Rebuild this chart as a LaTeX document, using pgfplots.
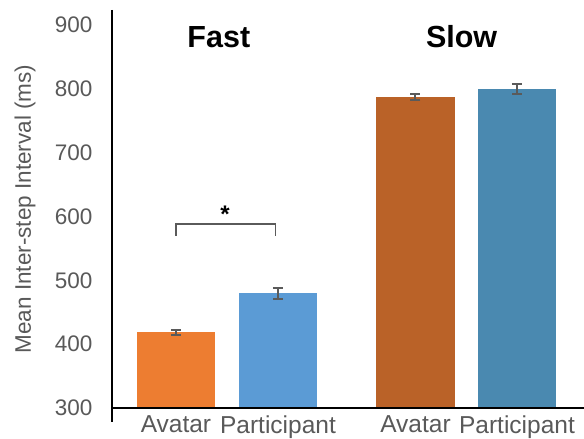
\documentclass[border=0pt]{standalone}
\usepackage{pgfplots}
\pgfplotsset{compat=1.18}
\usepackage{fontspec}
\setmainfont{Liberation Sans}
\definecolor{tickgray}{HTML}{595959}
\definecolor{errgray}{HTML}{5A5A5A}
\definecolor{fastA}{HTML}{ED7D31}
\definecolor{fastP}{HTML}{5B9BD5}
\definecolor{slowA}{HTML}{BA6228}
\definecolor{slowP}{HTML}{4A89B0}
\begin{document}
\begin{tikzpicture}
\path[use as bounding box] (-112pt,-31pt) rectangle (472pt,408pt);
\begin{axis}[
  at={(0,0)}, anchor=south west,
  scale only axis, width=472pt, height=398pt,
  xmin=-0.627, xmax=4.0, ymin=300, ymax=923.5,
  axis lines=none,
  hide x axis=false, hide y axis=false,
  clip=false,
  ytick={300,400,500,600,700,800,900},
  xtick={0,1,2.348,3.343},
  xticklabels={Avatar,Participant,Avatar,Participant},
  major tick length=0pt,
  tick label style={text=tickgray},
  yticklabel style={xshift=-16pt, font=\fontsize{22.5}{26}\selectfont},
  xticklabel style={yshift=-4pt, font=\fontsize{24.5}{28}\selectfont},
  ylabel={Mean Inter-step Interval (ms)},
  every axis y label/.style={at={(axis description cs:-0.184,0.5)}, rotate=90, anchor=center, font=\fontsize{22.5}{26}\selectfont, text=tickgray},
  /pgf/number format/assume math mode=true,
]
\addplot[ybar, bar shift=0pt, bar width=0.765, fill=fastA, draw=none,
  error bars/.cd, y dir=both, y explicit,
  error bar style={line width=2pt, errgray},
  error mark options={rotate=90, mark size=5pt, line width=2pt, errgray}]
  coordinates {(0,418.7) +- (0,4.1)};
\addplot[ybar, bar shift=0pt, bar width=0.765, fill=fastP, draw=none,
  error bars/.cd, y dir=both, y explicit,
  error bar style={line width=2pt, errgray},
  error mark options={rotate=90, mark size=5pt, line width=2pt, errgray}]
  coordinates {(1,479.6) +- (0,8.4)};
\addplot[ybar, bar shift=0pt, bar width=0.765, fill=slowA, draw=none,
  error bars/.cd, y dir=both, y explicit,
  error bar style={line width=2pt, errgray},
  error mark options={rotate=90, mark size=5pt, line width=2pt, errgray}]
  coordinates {(2.348,787.6) +- (0,4.4)};
\addplot[ybar, bar shift=0pt, bar width=0.765, fill=slowP, draw=none,
  error bars/.cd, y dir=both, y explicit,
  error bar style={line width=2pt, errgray},
  error mark options={rotate=90, mark size=5pt, line width=2pt, errgray}]
  coordinates {(3.343,799.6) +- (0,8.1)};
% axis lines
\draw[black, line width=2pt] (axis cs:-0.627,923.5) -- ([yshift=-14pt]axis cs:-0.627,300);
\draw[black, line width=2pt] (axis cs:-0.627,300) -- (axis cs:4.0,300);
% significance bracket
\draw[errgray, line width=1.6pt] (axis cs:0,569.9) -- (axis cs:0,588.3) -- (axis cs:0.977,588.3) -- (axis cs:0.977,569.9);
\node[font=\bfseries\fontsize{24}{28}\selectfont, anchor=center] at (axis cs:0.48,603) {*};
% titles
\node[font=\bfseries\fontsize{30.5}{36}\selectfont, anchor=base] at (axis cs:0.42,864) {Fast};
\node[font=\bfseries\fontsize{30.5}{36}\selectfont, anchor=base] at (axis cs:2.80,864) {Slow};
\end{axis}
\end{tikzpicture}
\end{document}
